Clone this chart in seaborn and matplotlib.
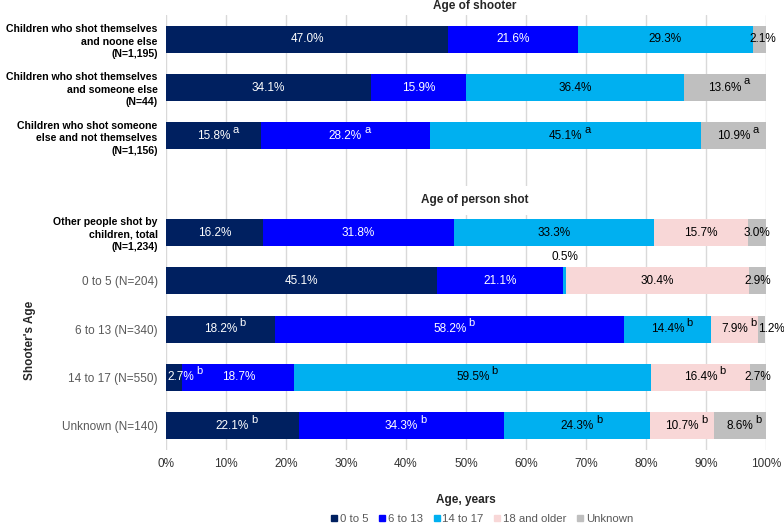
import numpy as np
import pandas as pd
import matplotlib.pyplot as plt
import seaborn as sns
from matplotlib.lines import Line2D

# Row labels (a blank row separates the two groups)
rows = [
    "Children who shot themselves\nand noone else\n(N=1,195)",
    "Children who shot themselves\nand someone else\n(N=44)",
    "Children who shot someone\nelse and not themselves\n(N=1,156)",
    "Other people shot by\nchildren, total\n(N=1,234)",
    "0 to 5 (N=204)",
    "6 to 13 (N=340)",
    "14 to 17 (N=550)",
    "Unknown (N=140)",
]
order = rows[:3] + [" "] + rows[3:]

ages = ["0 to 5", "6 to 13", "14 to 17", "18 and older", "Unknown"]
colors = ["#002060", "#0000FF", "#00B0F0", "#F8D7D7", "#BFBFBF"]

# Percentages per age category
age_0_5 = [47.0, 34.1, 15.8, 16.2, 45.1, 18.2, 2.7, 22.1]
age_6_13 = [21.6, 15.9, 28.2, 31.8, 21.1, 58.2, 18.7, 34.3]
age_14_17 = [29.3, 36.4, 45.1, 33.3, 0.5, 14.4, 59.5, 24.3]
age_18_up = [0, 0, 0, 15.7, 30.4, 7.9, 16.4, 10.7]
age_unknown = [2.1, 13.6, 10.9, 3.0, 2.9, 1.2, 2.7, 8.6]

# Footnote letters on the labels
notes_0_5 = ["", "", "a", "", "", "b", "b", "b"]
notes_6_13 = ["", "", "a", "", "", "b", "", "b"]
notes_14_17 = ["", "", "a", "", "", "b", "b", "b"]
notes_18_up = ["", "", "", "", "", "b", "b", "b"]
notes_unknown = ["", "a", "a", "", "", "", "", "b"]

values = np.array([age_0_5, age_6_13, age_14_17, age_18_up, age_unknown])
notes = [notes_0_5, notes_6_13, notes_14_17, notes_18_up, notes_unknown]
cum = values.cumsum(axis=0)

sns.set_style("white")
plt.rcParams['font.family'] = ['Liberation Sans', 'DejaVu Sans']

fig, ax = plt.subplots(figsize=(7.84, 5.25), dpi=100)
fig.subplots_adjust(left=0.2117, right=0.977, top=0.971, bottom=0.143)

# stacked bars: draw cumulative totals from the largest down
for i in range(len(ages) - 1, -1, -1):
    df = pd.DataFrame({'row': rows, 'pct': cum[i]})
    sns.barplot(data=df, x='pct', y='row', order=order, orient='h',
                color=colors[i], saturation=1, width=0.56, errorbar=None,
                linewidth=0, ax=ax)

# value labels
ypos = {r: order.index(r) for r in rows}
shift = {(2, 4): (0, -0.5), (4, 0): (0.5, 0), (4, 5): (1.6, 0), (0, 6): (1.2, 0)}
for i in range(len(ages)):
    for j, r in enumerate(rows):
        v = values[i, j]
        if v <= 0:
            continue
        start = cum[i, j] - v
        dx, dy = shift.get((i, j), (0, 0))
        tc = 'white' if i < 2 else 'black'
        if dy != 0:
            tc = 'black'
        t = ax.text(start + v / 2 + dx, ypos[r] + dy, f"{v:.1f}%", ha='center',
                    va='center', color=tc, fontsize=8.5)
        if notes[i][j]:
            ax.annotate(notes[i][j], xy=(1, 0.6), xycoords=t, xytext=(1.5, 0),
                        textcoords='offset points', ha='left', va='bottom',
                        color=tc, fontsize=8)

# section titles
ax.text(51.5, -0.7, "Age of shooter", ha='center', va='center',
        fontsize=8.5, fontweight='bold', clip_on=False)
ax.text(51.5, 3.33, "Age of person shot", ha='center', va='center',
        fontsize=8.5, fontweight='bold',
        bbox=dict(facecolor='white', edgecolor='none', pad=6))

ax.set_xlim(0, 100)
ax.set_ylim(8.5, -0.5)
ax.set_xticks(range(0, 101, 10))
ax.set_xticklabels([f"{t}%" for t in range(0, 101, 10)], fontsize=8.5, color='#333333')
ax.xaxis.grid(True, color='#D9D9D9', linewidth=1)
ax.set_axisbelow(True)
ax.tick_params(length=0, pad=6)
for s in ax.spines.values():
    s.set_visible(False)

for k, lbl in enumerate(ax.get_yticklabels()):
    if k <= 4:
        lbl.set_fontsize(7.6)
        lbl.set_linespacing(1.3)
        lbl.set_fontweight('bold')
        lbl.set_color('black')
    else:
        lbl.set_fontsize(8.5)
        lbl.set_color('#595959')

ax.set_ylabel("")
ax.set_xlabel("Age, years", fontsize=8.5, fontweight='bold', labelpad=17)
fig.text(30 / 784, 1 - 340 / 525, "Shooter's Age", rotation=90, ha='center',
         va='center', fontsize=8.5, fontweight='bold')

handles = [Line2D([], [], marker='s', linestyle='none', markersize=4.5,
                  color=c) for c in colors]
fig.legend(handles, ages, loc='center', bbox_to_anchor=(482 / 784, 1 - 519 / 525),
           ncol=5, frameon=False, fontsize=8.2, handlelength=0.6,
           handletextpad=0.2, columnspacing=0.9, labelcolor='#595959')

fig.savefig('out.png', dpi=100)
